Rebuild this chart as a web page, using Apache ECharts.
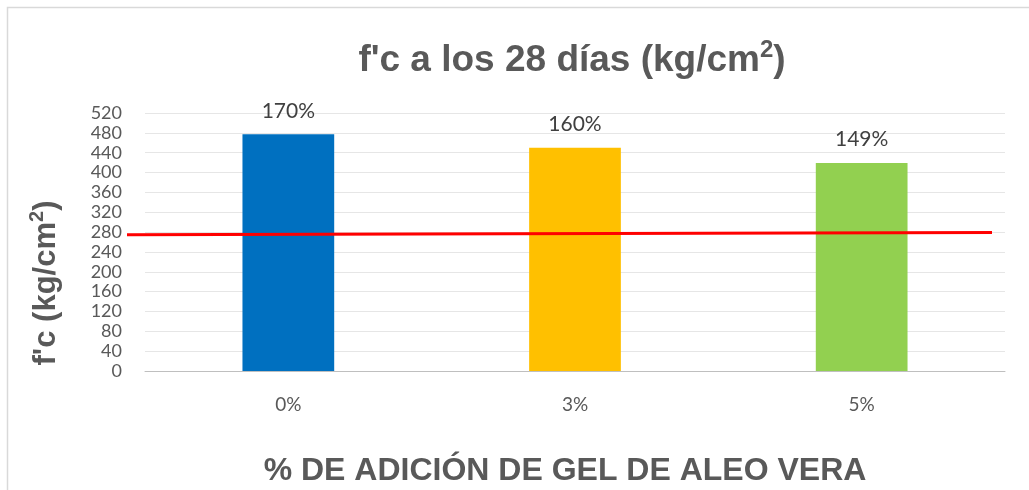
<!DOCTYPE html>
<html>
<head>
<meta charset="utf-8">
<script src="https://cdn.jsdelivr.net/npm/echarts@6/dist/echarts.min.js"></script>
<style>
  html, body { margin: 0; padding: 0; background: #fff; }
  #chart { width: 1029px; height: 490px; }
</style>
</head>
<body>
<div id="chart"></div>
<script>
  // datos
  const categories = ['0%', '3%', '5%']
  const resistencia = [477, 450, 419]
  const etiquetas = ['170%', '160%', '149%']
  const colores = ['#0070c0', '#ffc000', '#92d050']
  const yTicks = { min: 0, max: 520, interval: 40 }
  // línea roja de referencia (f'c = 280): inicio y fin
  const refX = [0, 1]
  const refY = [274.5, 279]

  const chart = echarts.init(document.getElementById('chart'))

  const option = {
    animation: false,
    backgroundColor: '#fff',
    title: {
      text: "{a|f'c a los 28 días (kg/cm}{s|2}{a|)}",
      left: 567,
      top: 33,
      textAlign: 'center',
      textStyle: {
        rich: {
          a: { fontFamily: 'Liberation Sans', fontWeight: 'bold', fontSize: 37, color: '#595959', lineHeight: 46 },
          s: { fontFamily: 'Liberation Sans', fontWeight: 'bold', fontSize: 24, color: '#595959', lineHeight: 26, verticalAlign: 'top' }
        }
      }
    },
    grid: [
      { left: 145, right: 24, top: 113, bottom: 119 },
      // rejilla auxiliar para la línea roja, más ancha que el área del gráfico
      { left: 127, right: 37, top: 113, bottom: 119 }
    ],
    xAxis: [
      {
        type: 'category',
        data: categories,
        axisLine: { lineStyle: { color: '#bfbfbf', width: 1 } },
        axisTick: { show: false },
        axisLabel: { color: '#595959', fontSize: 19, fontFamily: 'Lato', margin: 24 }
      },
      { type: 'value', gridIndex: 1, min: 0, max: 1, show: false }
    ],
    yAxis: [
      {
        type: 'value',
        min: yTicks.min,
        max: yTicks.max,
        interval: yTicks.interval,
        axisLine: { show: false },
        axisTick: { show: false },
        axisLabel: { color: '#595959', fontSize: 18, fontFamily: 'Lato', margin: 23 },
        splitLine: { lineStyle: { color: '#e6e6e6', width: 1 } }
      },
      { type: 'value', gridIndex: 1, min: yTicks.min, max: yTicks.max, show: false }
    ],
    graphic: [
      {
        type: 'rect',
        shape: { x: 7.5, y: 7.5, width: 1100, height: 600 },
        style: { fill: 'none', stroke: '#d9d9d9', lineWidth: 1.5 },
        silent: true
      },
      {
        type: 'text',
        x: 46,
        y: 283,
        rotation: Math.PI / 2,
        style: {
          text: "{a|f'c (kg/cm}{s|2}{a|)}",
          align: 'center',
          verticalAlign: 'middle',
          rich: {
            a: { fontFamily: 'Liberation Sans', fontWeight: 'bold', fontSize: 31, fill: '#595959', lineHeight: 38 },
            s: { fontFamily: 'Liberation Sans', fontWeight: 'bold', fontSize: 20, fill: '#595959', lineHeight: 20, verticalAlign: 'top' }
          }
        }
      },
      {
        type: 'text',
        x: 565,
        y: 471,
        style: {
          text: '% DE ADICIÓN DE GEL DE ALEO VERA',
          align: 'center',
          verticalAlign: 'middle',
          fontFamily: 'Liberation Sans',
          fontWeight: 'bold',
          fontSize: 32,
          fill: '#595959'
        }
      }
    ],
    series: [
      {
        type: 'bar',
        barWidth: '32%',
        data: resistencia.map((v, i) => ({
          value: v,
          itemStyle: { color: colores[i] },
          label: { formatter: etiquetas[i] }
        })),
        label: {
          show: true,
          position: 'top',
          distance: 13,
          color: '#404040',
          fontSize: 21,
          fontFamily: 'Lato'
        }
      },
      {
        type: 'line',
        xAxisIndex: 1,
        yAxisIndex: 1,
        clip: false,
        symbol: 'none',
        data: refX.map((x, i) => [x, refY[i]]),
        lineStyle: { color: '#ff0000', width: 3 },
        z: 5
      }
    ]
  }

  chart.setOption(option)
</script>
</body>
</html>
